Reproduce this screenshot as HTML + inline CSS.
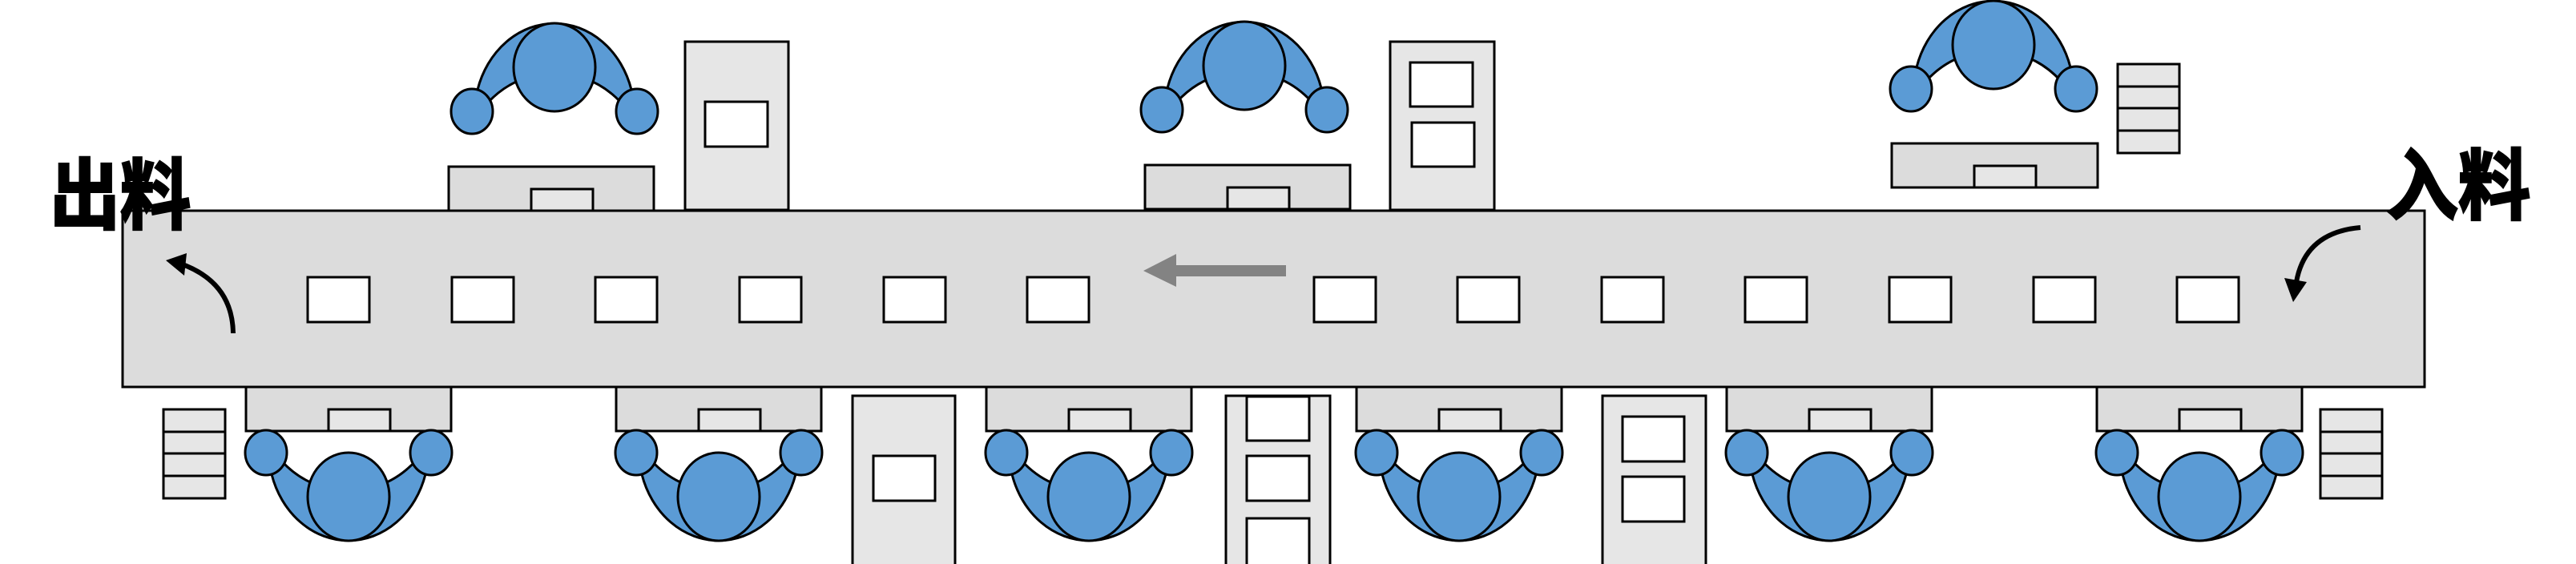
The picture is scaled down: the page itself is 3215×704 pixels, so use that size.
<!DOCTYPE html>
<html><head><meta charset="utf-8"><style>html,body{margin:0;padding:0;background:#fff}svg{display:block}</style></head>
<body>
<svg width="3215" height="704" viewBox="0 0 3215 704" xmlns="http://www.w3.org/2000/svg">
<defs>
<g id="person">
<path d="M-96,28 A100,115 0 0 1 96,28 L84,45 Q50,8 0,8 Q-50,8 -84,45 Z" fill="#5b9bd5" stroke="#000" stroke-width="3"/>
<ellipse cx="0" cy="0" rx="51" ry="55" fill="#5b9bd5" stroke="#000" stroke-width="3"/>
<ellipse cx="-103" cy="55" rx="26" ry="28" fill="#5b9bd5" stroke="#000" stroke-width="3"/>
<ellipse cx="103" cy="55" rx="26" ry="28" fill="#5b9bd5" stroke="#000" stroke-width="3"/>
</g>
<g id="desk">
<rect x="0" y="0" width="256" height="55" fill="#dcdcdc" stroke="#000" stroke-width="3"/>
<rect x="103" y="28" width="77" height="27" fill="#e6e6e6" stroke="#000" stroke-width="3"/>
</g>
<g id="stack">
<rect x="0" y="0" width="77" height="111" fill="#e6e6e6" stroke="#000" stroke-width="3"/>
<line x1="0" y1="28" x2="77" y2="28" stroke="#000" stroke-width="3"/>
<line x1="0" y1="55" x2="77" y2="55" stroke="#000" stroke-width="3"/>
<line x1="0" y1="83" x2="77" y2="83" stroke="#000" stroke-width="3"/>
</g>
</defs>
<g stroke="#000" stroke-width="3">
<use href="#desk" x="560" y="208"/>
<use href="#desk" x="1429" y="206"/>
<g transform="translate(2361,179)"><rect x="0" y="0" width="257" height="55" fill="#dcdcdc"/><rect x="103" y="28" width="77" height="27" fill="#e6e6e6"/></g>
<rect x="855" y="52" width="129" height="210" fill="#e6e6e6"/>
<rect x="880" y="127" width="78" height="56" fill="#fff"/>
<rect x="1735" y="52" width="130" height="210" fill="#e6e6e6"/>
<rect x="1760" y="78" width="78" height="55" fill="#fff"/>
<rect x="1762" y="153" width="78" height="55" fill="#fff"/>
<use href="#stack" x="2643" y="80"/>
<rect x="153" y="263" width="2873" height="220" fill="#dcdcdc"/>
<g fill="#fff">
<rect x="384" y="346" width="77" height="56"/><rect x="564" y="346" width="77" height="56"/>
<rect x="743" y="346" width="77" height="56"/><rect x="923" y="346" width="77" height="56"/>
<rect x="1103" y="346" width="77" height="56"/><rect x="1282" y="346" width="77" height="56"/>
<rect x="1640" y="346" width="77" height="56"/><rect x="1819" y="346" width="77" height="56"/>
<rect x="1999" y="346" width="77" height="56"/><rect x="2178" y="346" width="77" height="56"/>
<rect x="2358" y="346" width="77" height="56"/><rect x="2538" y="346" width="77" height="56"/>
<rect x="2717" y="346" width="77" height="56"/>
</g>
<use href="#desk" x="307" y="483"/><use href="#desk" x="769" y="483"/>
<use href="#desk" x="1231" y="483"/><use href="#desk" x="1693" y="483"/>
<use href="#desk" x="2155" y="483"/><use href="#desk" x="2617" y="483"/>
<use href="#stack" x="204" y="511"/>
<use href="#stack" x="2896" y="511"/>
<rect x="1064" y="494" width="128" height="212" fill="#e6e6e6"/>
<rect x="1090" y="569" width="77" height="56" fill="#fff"/>
<rect x="1530" y="494" width="130" height="212" fill="#e6e6e6"/>
<rect x="1556" y="495" width="78" height="55" fill="#fff"/>
<rect x="1556" y="569" width="78" height="56" fill="#fff"/>
<rect x="1556" y="647" width="78" height="60" fill="#fff"/>
<rect x="2000" y="494" width="129" height="212" fill="#e6e6e6"/>
<rect x="2025" y="520" width="77" height="56" fill="#fff"/>
<rect x="2025" y="595" width="77" height="56" fill="#fff"/>
</g>
<use href="#person" transform="translate(692,84)"/>
<use href="#person" transform="translate(1553,82)"/>
<use href="#person" transform="translate(2488,56)"/>
<use href="#person" transform="translate(435,620) scale(1,-1)"/>
<use href="#person" transform="translate(897,620) scale(1,-1)"/>
<use href="#person" transform="translate(1359,620) scale(1,-1)"/>
<use href="#person" transform="translate(1821,620) scale(1,-1)"/>
<use href="#person" transform="translate(2283,620) scale(1,-1)"/>
<use href="#person" transform="translate(2745,620) scale(1,-1)"/>
<polygon points="1427,338 1468,317 1468,331 1605,331 1605,345 1468,345 1468,358" fill="#838383"/>
<path d="M291,416 Q290,352 225,329" fill="none" stroke="#000" stroke-width="6"/>
<polygon points="207,325 233,316 230,344" fill="#000"/>
<path d="M2946,284 Q2877,290 2866,352" fill="none" stroke="#000" stroke-width="6"/>
<polygon points="2862,377 2851,347 2879,352" fill="#000"/>
<text x="62" y="278" font-family="'Liberation Sans','Noto Sans CJK SC',sans-serif" font-weight="bold" font-size="96" textLength="176" lengthAdjust="spacingAndGlyphs" stroke="#000" stroke-width="3">出料</text>
<text x="2978" y="266" font-family="'Liberation Sans','Noto Sans CJK SC',sans-serif" font-weight="bold" font-size="96" textLength="180" lengthAdjust="spacingAndGlyphs" stroke="#000" stroke-width="3">入料</text>
</svg>
</body></html>
